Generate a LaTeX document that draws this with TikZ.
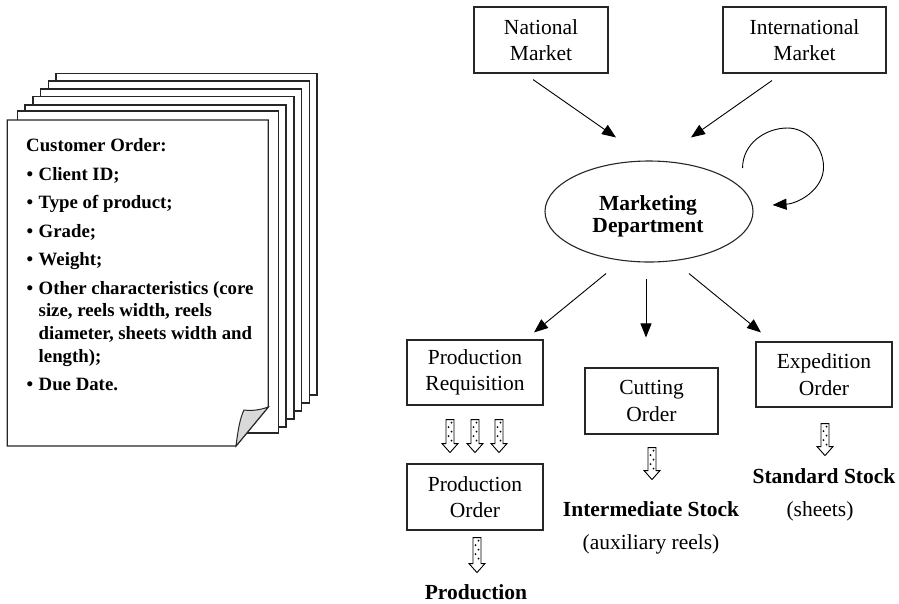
\documentclass[tikz,border=0pt]{standalone}
\usepackage{fontspec}
\setmainfont{Liberation Serif}
\usetikzlibrary{arrows.meta,calc,shapes.geometric}

\tikzset{
  box/.style={draw=black!85, line width=1.1pt, minimum width=134pt, minimum height=66pt,
    align=center, inner sep=0pt, font=\fontsize{21.5}{26.5}\selectfont},
  flow/.style={line width=0.9pt, -{Triangle[length=14pt,width=11pt]}},
  page/.style={draw=black!85, line width=1.3pt, fill=white},
  pagetxt/.style={anchor=base west, inner sep=0pt, font=\bfseries\fontsize{18.8}{22}\selectfont},
  lbl/.style={anchor=base, inner sep=0pt, font=\fontsize{21.5}{26}\selectfont},
  boldlbl/.style={lbl, font=\bfseries\fontsize{21.5}{26}\selectfont},
  pics/dotarrow/.style={code={
    \draw[line width=0.9pt, fill=white] (-4,0) -- (-4,#1-9) -- (-8,#1-9) -- (0,#1)
      -- (8,#1-9) -- (4,#1-9) -- (4,0) -- cycle;
    \pgfmathtruncatemacro\ndots{(#1-9)/4.5}
    \foreach \k in {1,...,\ndots}
      \fill ({1.5*(2*mod(\k,2)-1)},{\k*4.5-1.5}) circle[radius=1pt];
  }}
}

\newcommand\bul[1]{\makebox[12pt][l]{\textbullet}#1}

\begin{document}
\begin{tikzpicture}[x=1pt, y=-1pt]
\path[use as bounding box] (0,0) rectangle (899,603);

% stack of order sheets
\foreach \l/\t/\b in {56/73.3/395, 48.3/81/403, 40.7/89/411, 33/96.7/419, 25/105/427, 17.3/111/433}
  \draw[page] (\l,\t) rectangle (\l+261,\b);
\draw[page] (7.3,120) -- (268.3,120) -- (268.3,407) -- (236,446) -- (7.3,446) -- cycle;
% curled corner
\draw[draw=black!85, line width=1pt, fill=black!15] (236,446)
  .. controls (238,430) and (240,418) .. (244,410)
  .. controls (252,411) and (260,410) .. (268.3,407) -- cycle;

\node[pagetxt] (o0) at (26,151.5) {Customer Order:};
\node[pagetxt] (o1) at (26.5,180) {\bul{Client ID;}};
\node[pagetxt] (o2) at (26.5,208.5) {\bul{Type of product;}};
\node[pagetxt] (o3) at (26.5,237) {\bul{Grade;}};
\node[pagetxt] (o4) at (26.5,265.5) {\bul{Weight;}};
\node[pagetxt] (o5) at (26.5,294) {\bul{Other characteristics (core}};
\node[pagetxt] (o6) at (38.5,316.7) {size, reels width, reels};
\node[pagetxt] (o7) at (38.5,339.4) {diameter, sheets width and};
\node[pagetxt] (o8) at (38.5,362) {length);};
\node[pagetxt] (o9) at (26.5,390.7) {\bul{Due Date.}};

% markets and marketing department
\node[box] (nat) at (541,40) {National\\Market};
\node[box, minimum width=163pt] (intl) at (804.5,40) {International\\Market};
\node[draw=black!85, ellipse, line width=1.1pt, minimum width=208pt, minimum height=101pt,
  inner sep=0pt] (mkt) at (649,211.5) {};
\node[boldlbl] (mkt1) at (648,210) {Marketing};
\node[boldlbl] (mkt2) at (648,232) {Department};

\draw[flow] ($(nat.south)+(-8,6)$) -- ($(mkt.north)+(-33,-23)$);
\draw[flow] ($(intl.south)+(-32.5,7)$) -- ($(mkt.north)+(42,-23)$);
\begin{scope}[shift={(mkt.east)}]
  \draw[flow] (-11,-43.5) .. controls (-11,-68) and (12,-83.5) .. (34,-83.5)
    .. controls (54,-83.5) and (70,-64) .. (70,-44.5)
    .. controls (70,-22) and (45,-8) .. (19,-6.5);
\end{scope}

% orders
\node[box, minimum width=136pt, minimum height=65pt] (preq) at (475,372.5) {Production\\Requisition};
\node[box, minimum width=133pt] (cut) at (651.5,401) {Cutting\\Order};
\node[box, minimum width=136pt, minimum height=65pt] (exp) at (824,374.5) {Expedition\\Order};
\node[box, minimum width=136pt] (pord) at (475,497) {Production\\Order};

\draw[flow] ($(mkt.south)+(-43,11)$) -- ($(preq.north)+(59,-7)$);
\draw[flow] ($(mkt.south)+(-3,16)$) -- ($(cut.north)+(-5.5,-30)$);
\draw[flow] ($(mkt.south)+(40,11)$) -- ($(exp.north)+(-63,-9)$);

\pic at ($(preq.south)+(-25,14)$) {dotarrow=33};
\pic at ($(preq.south)+(0,14)$) {dotarrow=33};
\pic at ($(preq.south)+(24,14)$) {dotarrow=33};
\pic at ($(pord.south)+(2,7)$) {dotarrow=35};
\pic at ($(cut.south)+(0.5,13)$) {dotarrow=32};
\pic at ($(exp.south)+(1,16)$) {dotarrow=32};

% destinations
\node[boldlbl] (prod) at (476,599) {Production};
\node[boldlbl] (istock) at (651,516) {Intermediate Stock};
\node[lbl] (aux) at (651,549) {(auxiliary reels)};
\node[boldlbl] (sstock) at (824,483) {Standard Stock};
\node[lbl] (sheets) at (820,516) {(sheets)};
\end{tikzpicture}
\end{document}
